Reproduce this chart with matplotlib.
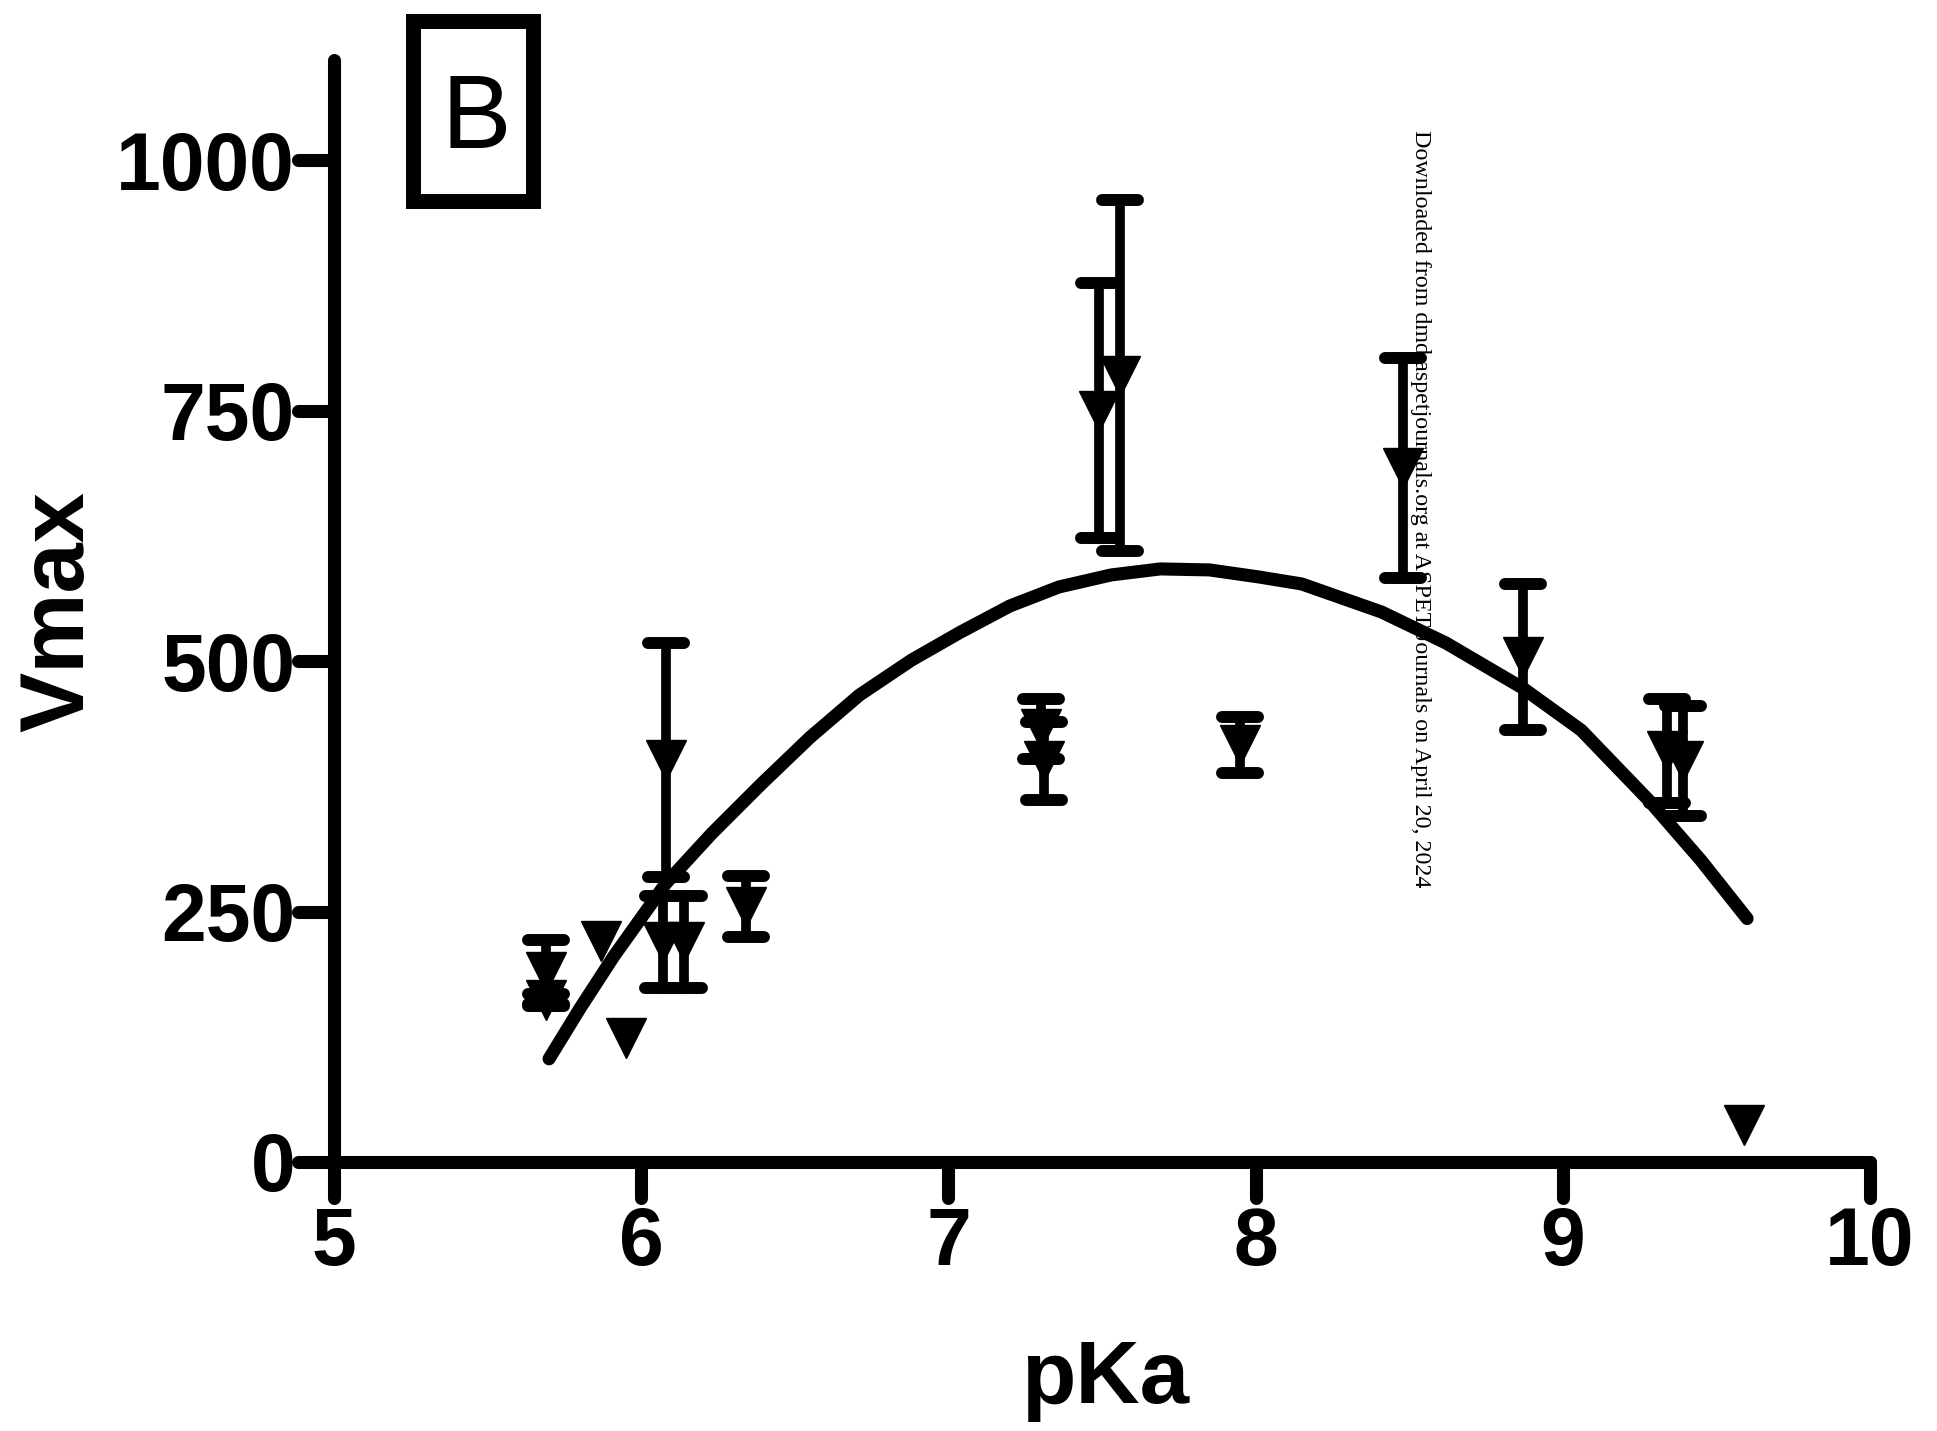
import numpy as np
import matplotlib
matplotlib.use("Agg")
from matplotlib import pyplot as plt
from matplotlib.patches import Rectangle
from matplotlib.markers import MarkerStyle, TICKLEFT, TICKDOWN

# data
pka = [5.69, 5.69, 5.87, 5.95, 6.07, 6.08, 6.14, 6.34, 7.30, 7.31,
       7.49, 7.56, 7.95, 8.48, 8.87, 9.34, 9.39, 9.59]
vmax = [190, 162, 221, 124, 220, 401, 220, 255, 432, 400,
        750, 785, 416, 693, 504, 410, 400, 37]
sem = [32, 6, 0, 0, 46, 117, 46, 30, 30, 39,
       127, 175, 28, 110, 73, 52, 55, 0]

# fitted curve, sampled from the figure
fit_pka = [5.70, 5.80, 5.91, 6.08, 6.23, 6.39, 6.55, 6.71, 6.88, 7.04,
           7.20, 7.36, 7.53, 7.69, 7.85, 8.01, 8.15, 8.41, 8.62, 8.87,
           9.06, 9.28, 9.45, 9.60]
fit_vmax = [103, 153, 205, 278, 328, 377, 424, 466, 501, 529,
            555, 574, 586, 592, 591, 584, 577, 549, 518, 473,
            431, 361, 301, 243]

xticks = [5, 6, 7, 8, 9, 10]
yticks = [0, 250, 500, 750, 1000]

W, H = 1937, 1431
fig = plt.figure(figsize=(W / 100, H / 100), dpi=100)
ax = fig.add_axes([334 / W, (H - 1162) / H, 1536 / W, 1102 / H])

x = np.array(pka)
y = np.array(vmax)
e = np.array(sem)
m = e > 0

# error bars
_, caps, _ = ax.errorbar(x[m], y[m], yerr=e[m], fmt="none", ecolor="black",
                         elinewidth=7, capsize=13, capthick=8.6, zorder=2)
for c in caps:
    c.set_marker(MarkerStyle("_", capstyle="round"))

# points
ax.plot(x, y, "v", color="black", markersize=29, zorder=3, clip_on=False)

# fit line
ax.plot(fit_pka, fit_vmax, "-", color="black", lw=9.4,
        solid_capstyle="round", solid_joinstyle="round", zorder=4)

ax.set_xlim(5, 10)
ax.set_ylim(0, 1100)
ax.set_xticks(xticks)
ax.set_yticks(yticks)

for s in ["top", "right"]:
    ax.spines[s].set_visible(False)
for s in ["left", "bottom"]:
    ax.spines[s].set_linewidth(9.4)
    ax.spines[s].set_capstyle("round")

ax.tick_params(width=9.4, length=26, color="black")
ax.tick_params(axis="x", pad=6)
ax.tick_params(axis="y", pad=2)
for t in ax.yaxis.get_major_ticks():
    t.tick1line.set_marker(MarkerStyle(TICKLEFT, capstyle="round"))
for t in ax.xaxis.get_major_ticks():
    t.tick1line.set_marker(MarkerStyle(TICKDOWN, capstyle="round"))

fnt = ["Liberation Sans", "DejaVu Sans"]
for lab in ax.get_xticklabels() + ax.get_yticklabels():
    lab.set_fontfamily(fnt)
    lab.set_fontweight("bold")
    lab.set_fontsize(58)

ax.set_xlabel("pKa", fontsize=64, fontweight="bold", family=fnt)
ax.xaxis.set_label_coords(0.502, -0.160)
ax.set_ylabel("Vmax", fontsize=65, fontweight="bold", family=fnt)
ax.yaxis.set_label_coords(-0.151, 0.5)

# panel letter box
fig.add_artist(Rectangle((412.5 / W, 1 - 200.5 / H), 120 / W, 180 / H,
                         transform=fig.transFigure, fill=False,
                         edgecolor="black", linewidth=10.8))
fig.text(476 / W, 1 - 122 / H, "B", fontsize=75, family=fnt,
         ha="center", va="center")

# watermark
fig.text(1421 / W, 1 - 130 / H,
         "Downloaded from dmd.aspetjournals.org at ASPET Journals on April 20, 2024",
         rotation=270, fontsize=17.3, family=["Liberation Serif", "DejaVu Serif"],
         ha="center", va="top")

fig.savefig("out.png", dpi=100)
